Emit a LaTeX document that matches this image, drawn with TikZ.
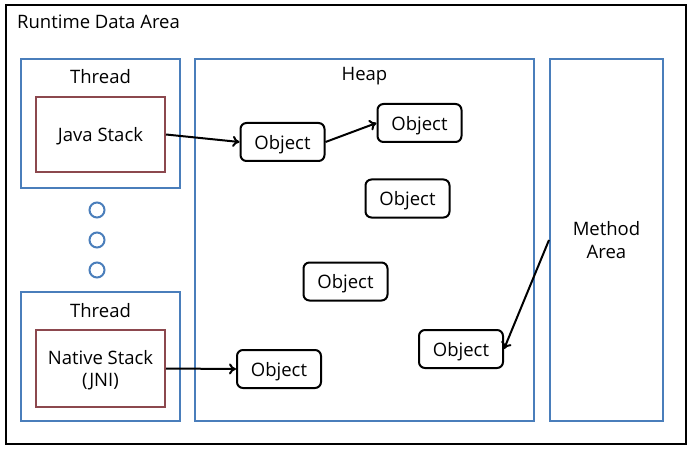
\documentclass[tikz,border=0pt]{standalone}
\usepackage{fontspec}
\setmainfont{Open Sans}
\usetikzlibrary{arrows.meta}
\definecolor{boxblue}{RGB}{74,126,187}
\definecolor{boxred}{RGB}{140,72,78}
\begin{document}
\begin{tikzpicture}[x=1pt,y=-1pt,
  every node/.style={font=\fontsize{18.5}{22.5}\selectfont, inner sep=0pt},
  region/.style={draw=boxblue, line width=2pt, rectangle},
  stackbox/.style={draw=boxred, line width=2pt, rectangle, align=center, text depth=0pt},
  obj/.style={draw=black, line width=2pt, rounded corners=6pt, minimum width=84pt, minimum height=38pt, text depth=0pt},
  dot/.style={draw=boxblue, line width=2pt, circle, minimum size=15pt},
  ref/.style={line width=2pt, -{To[length=7pt,width=11pt,line width=2pt]}}]
\useasboundingbox (0,0) rectangle (698,457);
\node[draw=black, line width=2.5pt, minimum width=680pt, minimum height=439pt] (outer) at (346,224.5) {};
\node[anchor=west] (title) at (17,22) {Runtime Data Area};
% threads
\node[region, minimum width=159pt, minimum height=129pt] (thread1) at (100.5,123.5) {};
\node (t1label) at (100.5,77) {Thread};
\node[stackbox, minimum width=129pt, minimum height=75pt] (java) at (100.5,134.5) {Java Stack};
\node[dot] (d1) at (97,210) {};
\node[dot] (d2) at (97,240) {};
\node[dot] (d3) at (97,270) {};
\node[region, minimum width=159pt, minimum height=129pt] (thread2) at (100.5,356.5) {};
\node (t2label) at (100.5,311) {Thread};
\node[stackbox, minimum width=129pt, minimum height=77pt] (native) at (100.5,368.5) {Native Stack\\(JNI)};
% heap
\node[region, minimum width=339pt, minimum height=362pt] (heap) at (364.5,240) {};
\node (heaplabel) at (364.5,76) {Heap};
% method area
\node[region, minimum width=113pt, minimum height=362pt, align=center, text depth=0pt] (method) at (606.5,240) {Method\\Area};
% objects
\node[obj] (o1) at (282.5,142) {Object};
\node[obj] (o2) at (419.5,123) {Object};
\node[obj] (o3) at (407.5,198.5) {Object};
\node[obj] (o4) at (345.5,281.5) {Object};
\node[obj] (o5) at (461,349) {Object};
\node[obj] (o6) at (279,369) {Object};
% references
\draw[ref] (java.east) -- (o1.west);
\draw[ref] (o1.east) -- (o2.west);
\draw[ref] (native.east) -- (o6.west);
\draw[ref] (method.west) -- (o5.east);
\end{tikzpicture}
\end{document}
